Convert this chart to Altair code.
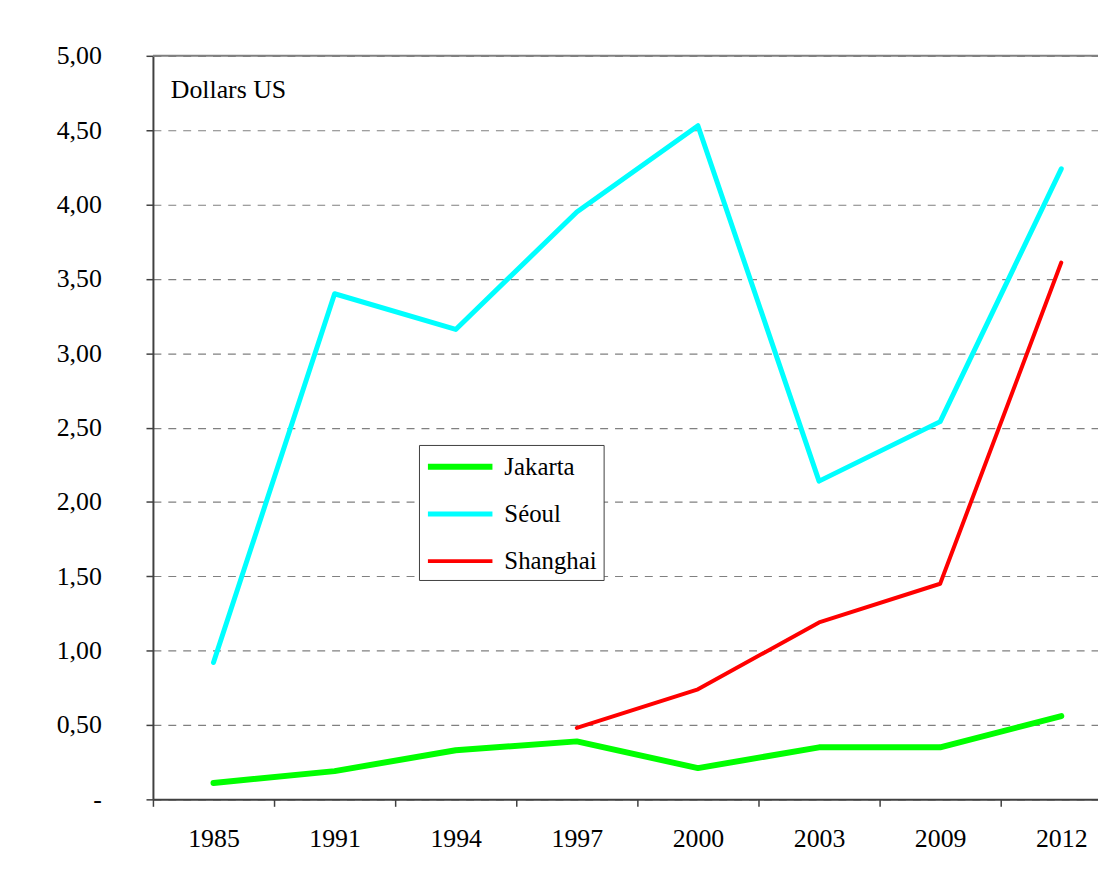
import altair as alt
import pandas as pd

years = ["1985", "1991", "1994", "1997", "2000", "2003", "2009", "2012"]
cities = ["Jakarta", "Séoul", "Shanghai"]
jakarta = [0.11, 0.19, 0.33, 0.39, 0.21, 0.35, 0.35, 0.56]
seoul = [0.92, 3.40, 3.16, 3.95, 4.53, 2.14, 2.54, 4.24]
shanghai = [None, None, None, 0.48, 0.74, 1.19, 1.45, 3.61]
colors = ["#00ff00", "#00ffff", "#ff0000"]
widths = [6, 4, 4]
y_ticks = [0, 0.5, 1, 1.5, 2, 2.5, 3, 3.5, 4, 4.5, 5]
top_value = [5]

rows = []
for city, vals in zip(cities, [jakarta, seoul, shanghai]):
    for yr, v in zip(years, vals):
        if v is not None:
            rows.append({"year": yr, "city": city, "value": v})
df = pd.DataFrame(rows)

FONT = "Liberation Serif, DejaVu Serif, serif"
NB = "\u00a0"
label_expr = ("datum.value == 0 ? '-" + NB * 4 + "' : "
              "replace(format(datum.value, '.2f'), '.', ',')")

y_scale = alt.Scale(domain=[0, 5], nice=False, zero=True)

x_enc = alt.X(
    "year:N", sort=years,
    scale=alt.Scale(type="band", domain=years, range=[0, 976],
                    paddingInner=0, paddingOuter=0),
    axis=alt.Axis(title=None, tickBand="extent", labelFont=FONT, labelFontSize=26,
                  labelColor="black", labelBaseline="alphabetic", labelPadding=40,
                  labelAngle=0, tickSize=7, tickColor="#404040", tickWidth=1.5,
                  domainColor="#404040", domainWidth=2, grid=False),
)
y_enc = alt.Y(
    "value:Q", scale=y_scale,
    axis=alt.Axis(title=None, values=y_ticks, labelExpr=label_expr, labelFont=FONT,
                  labelFontSize=26, labelColor="black", labelPadding=45,
                  tickSize=7, tickColor="#404040", tickWidth=1.5,
                  domainColor="#404040", domainWidth=2,
                  grid=True, gridDash=[8, 7], gridColor="#808080", gridWidth=1.2),
)

lines = alt.Chart(df).mark_line(strokeCap="round", strokeJoin="round").encode(
    x=x_enc,
    y=y_enc,
    color=alt.Color(
        "city:N", sort=cities,
        scale=alt.Scale(domain=cities, range=colors),
        legend=alt.Legend(
            title=None, orient="none", legendX=268, legendY=392,
            symbolType="M-1,0H4", symbolSize=676, symbolStrokeWidth=5,
            labelFont=FONT, labelFontSize=25, labelColor="black",
            labelOffset=48, rowPadding=19, padding=6,
            strokeColor="#404040", fillColor="white", labelLimit=0,
        ),
    ),
    strokeWidth=alt.StrokeWidth("city:N", scale=alt.Scale(domain=cities, range=widths),
                                legend=None),
)

top_rule = alt.Chart(pd.DataFrame({"v": top_value})).mark_rule(
    color="#808080", strokeWidth=2
).encode(y=alt.Y("v:Q", scale=y_scale))

chart = alt.layer(lines, top_rule).properties(
    width=952, height=749,
    autosize=alt.AutoSizeParams(type="none"),
    padding={"left": 146, "top": 45, "right": 0, "bottom": 70},
    title=alt.TitleParams("Dollars US", anchor="start", frame="group", orient="top",
                          offset=0, dx=18, dy=81, font=FONT, fontSize=26,
                          fontWeight="normal", color="black", baseline="alphabetic"),
).configure(background="white").configure_view(stroke=None)

chart.save("out.html", embed_options={"renderer": "svg", "actions": False})
